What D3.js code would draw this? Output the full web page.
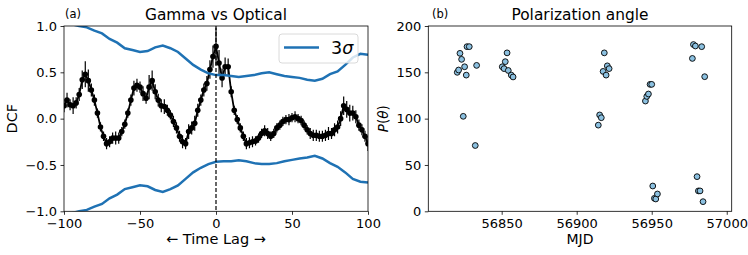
<!DOCTYPE html>
<html>
<head>
<meta charset="utf-8">
<script src="https://cdn.jsdelivr.net/npm/d3@7"></script>
<style>
  body { margin: 0; background: #fff; }
  text { font-family: "DejaVu Sans", sans-serif; fill: #000; }
</style>
</head>
<body>
<svg id="fig" width="748" height="255"></svg>
<script>
// panel (a): discrete correlation function, gamma vs optical
var lags = [-100, -98, -96, -94, -92, -90, -88, -86, -84, -82, -80, -78, -76, -74, -72, -70, -68, -66, -64, -62,
  -60, -58, -56, -54, -52, -50, -48, -46, -44, -42, -40, -38, -36, -34, -32, -30, -28, -26, -24, -22,
  -20, -18, -16, -14, -12, -10, -8, -6, -4, -2, 0, 2, 4, 6, 8, 10, 12, 14, 16, 18,
  20, 22, 24, 26, 28, 30, 32, 34, 36, 38, 40, 42, 44, 46, 48, 50, 52, 54, 56, 58,
  60, 62, 64, 66, 68, 70, 72, 74, 76, 78, 80, 82, 84, 86, 88, 90, 92, 94, 96, 98, 100];
var dcf = [0.14, 0.20, 0.15, 0.14, 0.17, 0.26, 0.42, 0.48, 0.41, 0.31, 0.20, 0.06, -0.09, -0.19, -0.27, -0.25, -0.21, -0.21, -0.21, -0.14,
  -0.06, 0.06, 0.20, 0.33, 0.36, 0.34, 0.27, 0.22, 0.34, 0.41, 0.29, 0.20, 0.14, 0.13, 0.09, 0.04, -0.03, -0.10, -0.19, -0.25,
  -0.27, -0.14, -0.10, -0.05, 0.09, 0.20, 0.31, 0.38, 0.53, 0.67, 0.78, 0.60, 0.44, 0.56, 0.56, 0.29, 0.09, -0.01, -0.10, -0.19,
  -0.27, -0.26, -0.25, -0.24, -0.21, -0.16, -0.13, -0.16, -0.19, -0.16, -0.10, -0.07, -0.03, -0.01, -0.01, 0.01, 0.02, 0.00, -0.02, -0.07,
  -0.12, -0.16, -0.18, -0.18, -0.19, -0.19, -0.18, -0.16, -0.16, -0.12, -0.09, 0.00, 0.14, 0.10, 0.06, 0.06, 0.02, -0.07, -0.12, -0.19, -0.27];
var dcfErr = [0.07, 0.08, 0.06, 0.09, 0.06, 0.07, 0.10, 0.14, 0.12, 0.07, 0.06, 0.05, 0.05, 0.05, 0.06, 0.06, 0.06, 0.07, 0.06, 0.05,
  0.05, 0.05, 0.06, 0.08, 0.07, 0.06, 0.08, 0.06, 0.13, 0.11, 0.08, 0.07, 0.07, 0.08, 0.06, 0.05, 0.06, 0.06, 0.06, 0.07,
  0.06, 0.08, 0.07, 0.08, 0.07, 0.06, 0.07, 0.08, 0.10, 0.12, 0.20, 0.14, 0.10, 0.10, 0.09, 0.06, 0.05, 0.05, 0.05, 0.05,
  0.06, 0.06, 0.06, 0.05, 0.05, 0.05, 0.06, 0.06, 0.05, 0.05, 0.05, 0.05, 0.05, 0.05, 0.06, 0.05, 0.06, 0.05, 0.05, 0.05,
  0.05, 0.06, 0.06, 0.06, 0.06, 0.06, 0.06, 0.07, 0.06, 0.07, 0.07, 0.08, 0.10, 0.09, 0.09, 0.08, 0.07, 0.06, 0.06, 0.06, 0.08];

// 3 sigma significance levels
var sigLags = [-100, -95, -90, -85, -80, -75, -70, -65, -60, -55, -50, -45, -40, -35, -30, -25, -20, -15, -10, -5,
  0, 5, 10, 15, 20, 25, 30, 35, 40, 45, 50, 55, 60, 65, 70, 75, 80, 85, 90, 95, 100];
var sigUpper = [1.06, 1.02, 1.00, 0.985, 0.95, 0.92, 0.86, 0.82, 0.76, 0.74, 0.72, 0.73, 0.77, 0.79, 0.76, 0.72, 0.65, 0.58, 0.53, 0.49,
  0.47, 0.47, 0.46, 0.45, 0.46, 0.47, 0.49, 0.50, 0.48, 0.46, 0.45, 0.44, 0.42, 0.41, 0.43, 0.48, 0.51, 0.58, 0.66, 0.70, 0.69];
var sigLower = [-1.06, -1.02, -1.00, -0.985, -0.95, -0.92, -0.86, -0.82, -0.76, -0.74, -0.72, -0.73, -0.77, -0.79, -0.76, -0.72, -0.65, -0.58, -0.53, -0.49,
  -0.465, -0.46, -0.46, -0.45, -0.46, -0.48, -0.49, -0.49, -0.48, -0.46, -0.445, -0.43, -0.42, -0.40, -0.43, -0.48, -0.52, -0.58, -0.65, -0.68, -0.69];

var lagTicks = [-100, -50, 0, 50, 100];
var dcfTicks = [-1.0, -0.5, 0.0, 0.5, 1.0];

// panel (b): polarization angle
var mjd = [56820.4, 56821.3, 56822.2, 56823.3, 56825.3, 56826.4, 56826.9, 56828.4, 56824.4, 56833.3, 56832.4,
  56850.4, 56851.6, 56852.4, 56853.6, 56854.4, 56856.4, 56857.6,
  56914.4, 56915.3, 56916.4, 56917.6, 56918.4, 56919.6, 56920.4, 56921.6,
  56945.8, 56946.7, 56947.8, 56948.9, 56950.0, 56950.7, 56951.8, 56952.7, 56953.8,
  56977.1, 56977.8, 56979.1, 56983.3, 56985.3, 56980.2, 56981.1, 56982.2, 56984.2];
var polAngle = [150, 152.5, 170.5, 164, 156, 147, 177.7, 177.7, 102.5, 157.5, 71,
  156, 154, 161.5, 171, 152, 147, 145,
  93, 104, 101, 151, 171, 147, 157, 154,
  119, 124, 126.6, 137, 137, 27.3, 14, 13.3, 18.7,
  165, 180, 178.4, 177.7, 145.3, 37.4, 22, 22, 10.4];
var mjdTicks = [56850, 56900, 56950, 57000];
var angleTicks = [0, 50, 100, 150, 200];

var svg = d3.select('#fig');
svg.append('rect').attr('width', 748).attr('height', 255).attr('fill', '#fff');

var panelA = { left: 64, right: 368, top: 26, bottom: 211.3 };
var panelB = { left: 428.3, right: 731.7, top: 26, bottom: 211.3 };

function drawAxes(g, p, x, y, xTicks, yTicks, xFmt, yFmt) {
  var xa = g.append('g')
    .attr('transform', 'translate(0,' + p.bottom + ')')
    .call(d3.axisBottom(x).tickValues(xTicks).tickFormat(xFmt).tickSize(3.5).tickPadding(3.5).tickSizeOuter(0));
  var ya = g.append('g')
    .attr('transform', 'translate(' + p.left + ',0)')
    .call(d3.axisLeft(y).tickValues(yTicks).tickFormat(yFmt).tickSize(3.5).tickPadding(3.5).tickSizeOuter(0));
  [xa, ya].forEach(function (a) {
    a.select('.domain').remove();
    a.selectAll('text').style('font-family', '"DejaVu Sans", sans-serif').style('font-size', '13px').attr('fill', '#000');
    a.selectAll('line').attr('stroke', '#000').attr('stroke-width', 0.8);
  });
}

function frame(g, p) {
  g.append('rect')
    .attr('x', p.left).attr('y', p.top)
    .attr('width', p.right - p.left).attr('height', p.bottom - p.top)
    .attr('fill', 'none').attr('stroke', '#000').attr('stroke-width', 0.8);
}

// ---------- panel (a)
var xA = d3.scaleLinear().domain([-100, 100]).range([panelA.left, panelA.right]);
var yA = d3.scaleLinear().domain([-1, 1]).range([panelA.bottom, panelA.top]);

svg.append('clipPath').attr('id', 'clipA')
  .append('rect')
  .attr('x', panelA.left).attr('y', panelA.top)
  .attr('width', panelA.right - panelA.left).attr('height', panelA.bottom - panelA.top);

var gA = svg.append('g');
var plotA = gA.append('g').attr('clip-path', 'url(#clipA)');

var dcfData = lags.map(function (l, i) { return { lag: l, v: dcf[i], e: dcfErr[i] }; });

plotA.append('g').selectAll('line')
  .data(dcfData)
  .enter().append('line')
  .attr('x1', function (d) { return xA(d.lag); })
  .attr('x2', function (d) { return xA(d.lag); })
  .attr('y1', function (d) { return yA(d.v - d.e); })
  .attr('y2', function (d) { return yA(d.v + d.e); })
  .attr('stroke', '#000').attr('stroke-width', 1.2);

plotA.append('path')
  .datum(dcfData)
  .attr('d', d3.line().x(function (d) { return xA(d.lag); }).y(function (d) { return yA(d.v); }))
  .attr('fill', 'none').attr('stroke', '#000').attr('stroke-width', 1.8);

plotA.append('g').selectAll('circle')
  .data(dcfData)
  .enter().append('circle')
  .attr('cx', function (d) { return xA(d.lag); })
  .attr('cy', function (d) { return yA(d.v); })
  .attr('r', 2.8)
  .attr('fill', '#000');

var sigLine = d3.line().x(function (d) { return xA(d[0]); }).y(function (d) { return yA(d[1]); });
[sigUpper, sigLower].forEach(function (s) {
  plotA.append('path')
    .datum(sigLags.map(function (l, i) { return [l, s[i]]; }))
    .attr('d', sigLine)
    .attr('fill', 'none').attr('stroke', '#1f72b4').attr('stroke-width', 2.5);
});

// zero lag marker
plotA.append('line')
  .attr('x1', xA(0)).attr('x2', xA(0))
  .attr('y1', panelA.top).attr('y2', panelA.bottom)
  .attr('stroke', '#000').attr('stroke-width', 1.2).attr('stroke-dasharray', '4,2');

frame(gA, panelA);
drawAxes(gA, panelA, xA, yA, lagTicks, dcfTicks, d3.format('d'), d3.format('.1f'));

// legend
var leg = gA.append('g');
leg.append('rect')
  .attr('x', 279).attr('y', 34).attr('width', 79).attr('height', 29).attr('rx', 3)
  .attr('fill', 'rgba(255,255,255,0.8)').attr('stroke', '#d0d0d0').attr('stroke-width', 0.8);
leg.append('line')
  .attr('x1', 284).attr('x2', 319).attr('y1', 47.5).attr('y2', 47.5)
  .attr('stroke', '#1f72b4').attr('stroke-width', 2.5);
var legText = leg.append('text').attr('x', 331).attr('y', 54).style('font-size', '17.5px');
legText.append('tspan').text('3');
legText.append('tspan').style('font-style', 'italic').text('σ');

gA.append('text').attr('x', 65).attr('y', 17.5).style('font-size', '11.5px').text('(a)');
gA.append('text').attr('x', (panelA.left + panelA.right) / 2).attr('y', 20)
  .attr('text-anchor', 'middle').style('font-size', '15.4px').text('Gamma vs Optical');
gA.append('text').attr('x', (panelA.left + panelA.right) / 2).attr('y', 244)
  .attr('text-anchor', 'middle').style('font-size', '14.5px').text('← Time Lag →');
gA.append('text')
  .attr('transform', 'translate(17,' + (panelA.top + panelA.bottom) / 2 + ') rotate(-90)')
  .attr('text-anchor', 'middle').style('font-size', '14.5px').text('DCF');

// ---------- panel (b)
var xB = d3.scaleLinear().domain([56801.1, 57003.3]).range([panelB.left, panelB.right]);
var yB = d3.scaleLinear().domain([0, 200]).range([panelB.bottom, panelB.top]);

var gB = svg.append('g');
gB.append('g').selectAll('circle')
  .data(mjd.map(function (m, i) { return { t: m, a: polAngle[i] }; }))
  .enter().append('circle')
  .attr('cx', function (d) { return xB(d.t); })
  .attr('cy', function (d) { return yB(d.a); })
  .attr('r', 2.9)
  .attr('fill', '#8bc0e0').attr('stroke', '#000').attr('stroke-width', 0.9);

frame(gB, panelB);
drawAxes(gB, panelB, xB, yB, mjdTicks, angleTicks, d3.format('d'), d3.format('d'));

gB.append('text').attr('x', 432).attr('y', 17.5).style('font-size', '11.5px').text('(b)');
gB.append('text').attr('x', (panelB.left + panelB.right) / 2).attr('y', 20)
  .attr('text-anchor', 'middle').style('font-size', '15.4px').text('Polarization angle');
gB.append('text').attr('x', (panelB.left + panelB.right) / 2).attr('y', 244)
  .attr('text-anchor', 'middle').style('font-size', '14px').text('MJD');
var yLab = gB.append('text')
  .attr('transform', 'translate(388,' + (panelB.top + panelB.bottom) / 2 + ') rotate(-90)')
  .attr('text-anchor', 'middle').style('font-size', '13.5px');
yLab.append('tspan').style('font-style', 'italic').text('P');
yLab.append('tspan').text('(');
yLab.append('tspan').style('font-style', 'italic').text('θ');
yLab.append('tspan').text(')');
</script>
</body>
</html>
